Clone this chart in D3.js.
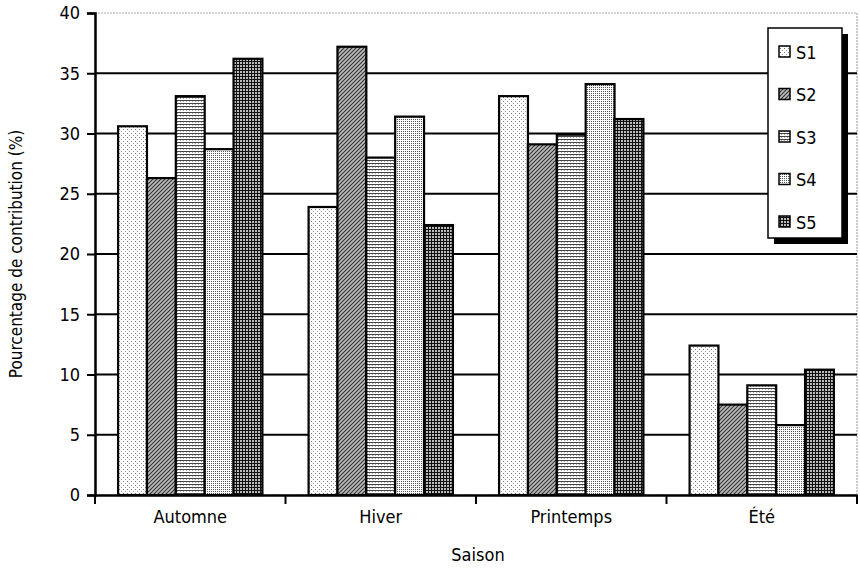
<!DOCTYPE html>
<html>
<head>
<meta charset="utf-8">
<script src="https://cdn.jsdelivr.net/npm/d3@7"></script>
<style>
  body { margin: 0; background: #fff; }
  text { font-family: "Liberation Sans Narrow", "Arial Narrow", "DejaVu Sans Condensed", sans-serif; }
</style>
</head>
<body>
<div id="chart"></div>
<script>
// donnees
const saisons = ["Automne", "Hiver", "Printemps", "Été"];
const series = ["S1", "S2", "S3", "S4", "S5"];
const s1 = [30.6, 23.9, 33.1, 12.4];
const s2 = [26.3, 37.2, 29.1, 7.5];
const s3 = [33.1, 28.0, 29.9, 9.1];
const s4 = [28.7, 31.4, 34.1, 5.8];
const s5 = [36.2, 22.4, 31.2, 10.4];
const valeurs = [s1, s2, s3, s4, s5];
const yTicks = [0, 5, 10, 15, 20, 25, 30, 35, 40];

const W = 860, H = 573;
const marge = {top: 13, right: 3, bottom: 78, left: 95};
const largeur = W - marge.left - marge.right,
    hauteur = H - marge.top - marge.bottom;

const $svg = d3.select("#chart").append("svg")
    .attr("width", W)
    .attr("height", H);

// motifs des barres
const defs = $svg.append("defs");
const motif = (id, taille, dessin) => {
    const p = defs.append("pattern")
        .attr("id", id)
        .attr("patternUnits", "userSpaceOnUse")
        .attr("width", taille).attr("height", taille);
    p.append("rect").attr("width", taille).attr("height", taille).attr("fill", "#fff");
    dessin(p);
};
motif("p1", 4, p => {
    p.append("rect").attr("x", 0).attr("y", 0).attr("width", 1).attr("height", 1).attr("fill", "#777");
    p.append("rect").attr("x", 2).attr("y", 2).attr("width", 1).attr("height", 1).attr("fill", "#999");
});
motif("p2", 4, p => {
    p.select("rect").attr("fill", "#bbb");
    p.append("path").attr("d", "M-1,1 L1,-1 M0,4 L4,0 M3,5 L5,3").attr("stroke", "#333").attr("stroke-width", 1.1);
});
motif("p3", 3, p => {
    p.append("rect").attr("x", 0).attr("y", 0).attr("width", 3).attr("height", 1).attr("fill", "#444");
    p.append("rect").attr("x", 1).attr("y", 1).attr("width", 1).attr("height", 1).attr("fill", "#aaa");
});
motif("p4", 2, p => {
    p.append("rect").attr("x", 0).attr("y", 0).attr("width", 1).attr("height", 1).attr("fill", "#555");
});
motif("p5", 3, p => {
    p.select("rect").attr("fill", "#666");
    p.append("rect").attr("x", 0).attr("y", 0).attr("width", 3).attr("height", 1).attr("fill", "#111");
    p.append("rect").attr("x", 0).attr("y", 0).attr("width", 1).attr("height", 3).attr("fill", "#111");
    p.append("rect").attr("x", 1).attr("y", 1).attr("width", 2).attr("height", 2).attr("fill", "#bbb");
});

const g = $svg.append("g")
    .attr("transform", `translate(${marge.left},${marge.top})`);

const x0 = d3.scaleBand().domain(saisons).range([0, largeur]).paddingInner(0).paddingOuter(0);
const x1 = d3.scaleBand().domain(series).range([0, x0.bandwidth()]).paddingOuter(0.8).paddingInner(0);
const y = d3.scaleLinear().domain([0, 40]).range([hauteur, 0]);

// cadre gris
g.append("rect")
    .attr("width", largeur).attr("height", hauteur)
    .attr("fill", "none").attr("stroke", "#aaa").attr("stroke-width", 1.2)
    .attr("stroke-dasharray", "2,1");

// grille
g.selectAll(".grille").data(yTicks.filter(d => d > 0 && d < 40)).join("line")
    .attr("x1", 0).attr("x2", largeur)
    .attr("y1", d => y(d)).attr("y2", d => y(d))
    .attr("stroke", "#000").attr("stroke-width", 2);

// barres
saisons.forEach((s, i) => {
    g.selectAll(null).data(series).join("rect")
        .attr("x", (k) => x0(s) + x1(k))
        .attr("y", (k, j) => y(valeurs[j][i]))
        .attr("width", x1.bandwidth())
        .attr("height", (k, j) => hauteur - y(valeurs[j][i]))
        .attr("fill", (k, j) => `url(#p${j + 1})`)
        .attr("stroke", "#000").attr("stroke-width", 2.2);
});

// axe y
const axeY = g.append("g")
    .call(d3.axisLeft(y).tickValues(yTicks).tickSize(8).tickPadding(7).tickFormat(d3.format("d")));
axeY.select(".domain").attr("stroke-width", 2.5);
axeY.selectAll(".tick line").attr("stroke-width", 2);
axeY.selectAll("text").attr("font-size", 18).attr("fill", "#000");

// axe x
const axeX = g.append("g")
    .attr("transform", `translate(0,${hauteur})`)
    .call(d3.axisBottom(x0).tickSize(0).tickPadding(15));
axeX.select(".domain").attr("stroke-width", 2.5);
axeX.selectAll("text").attr("font-size", 18).attr("fill", "#000");
axeX.selectAll(".sep").data(saisons.concat(["fin"])).join("line")
    .attr("class", "sep")
    .attr("x1", (d, i) => i * x0.bandwidth()).attr("x2", (d, i) => i * x0.bandwidth())
    .attr("y1", 0).attr("y2", 9)
    .attr("stroke", "#000").attr("stroke-width", 2);

// titres
$svg.append("text")
    .attr("transform", `translate(22,${marge.top + hauteur / 2}) rotate(-90)`)
    .attr("text-anchor", "middle")
    .attr("font-size", 17)
    .text("Pourcentage de contribution (%)");
$svg.append("text")
    .attr("x", marge.left + largeur / 2 + 2)
    .attr("y", 561)
    .attr("text-anchor", "middle")
    .attr("font-size", 18)
    .text("Saison");

// legende
const leg = $svg.append("g").attr("transform", "translate(768,28)");
leg.append("rect").attr("x", 6).attr("y", 6).attr("width", 74).attr("height", 210).attr("fill", "#000");
leg.append("rect").attr("width", 74).attr("height", 210).attr("fill", "#fff").attr("stroke", "#000").attr("stroke-width", 1.5);
series.forEach((s, j) => {
    const ly = 24 + j * 42.5;
    leg.append("rect")
        .attr("x", 11).attr("y", ly - 6).attr("width", 11).attr("height", 11)
        .attr("fill", `url(#p${j + 1})`).attr("stroke", "#000").attr("stroke-width", 1.5);
    leg.append("text")
        .attr("x", 28).attr("y", ly)
        .attr("dominant-baseline", "central")
        .attr("font-size", 18)
        .text(s);
});
</script>
</body>
</html>
